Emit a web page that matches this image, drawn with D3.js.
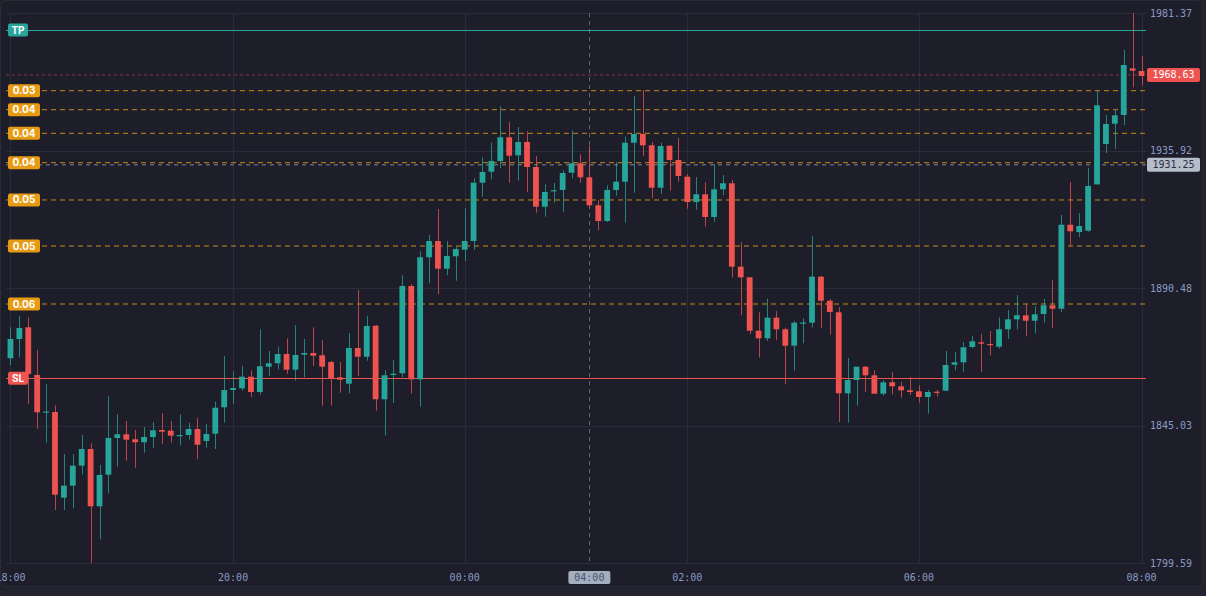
<!DOCTYPE html>
<html lang="en">
  <head>
    <meta charset="UTF-8" />
    <title>Candles</title>
    <style>
      body {
        margin: 0;
        background: #23232f;
      }
      .axis-text {
        font-family: "DejaVu Sans Mono", monospace;
        font-size: 10px;
        fill: #8a9ac2;
      }
      .tag-text {
        font-family: "Inter", "Roboto", sans-serif;
        font-size: 10px;
        font-weight: 700;
        fill: #ffffff;
      }
    </style>
    <script src="https://d3js.org/d3.v7.min.js"></script>
  </head>
  <body>
    <div id="chart"></div>
    <script>
      const opens = [
        1867.25, 1873.62, 1877.49, 1861.73, 1849.33, 1849.5, 1821.18, 1825.14, 1831.75, 1837.27,
        1818.33, 1828.78, 1840.91, 1842.13, 1840.48, 1839.49, 1841.24, 1843.55, 1843.32, 1841.67,
        1841.9, 1843.88, 1839.92, 1842.33, 1851.06, 1856.77, 1857.33, 1861.17, 1856.11, 1864.47,
        1865.6, 1868.67, 1863.48, 1868.44, 1869.0, 1868.24, 1866.02, 1860.97, 1858.85, 1870.65,
        1867.77, 1878.02, 1853.7, 1861.73, 1862.29, 1891.14, 1860.3, 1900.63, 1906.01, 1896.86,
        1900.96, 1903.14, 1906.01, 1925.28, 1928.92, 1932.46, 1940.29, 1934.34, 1938.73, 1930.47,
        1917.35, 1922.47, 1922.87, 1928.59, 1931.7, 1927.07, 1917.81, 1912.62, 1922.87, 1925.61,
        1938.5, 1941.38, 1937.64, 1923.63, 1937.51, 1932.79, 1927.27, 1918.91, 1921.45, 1913.95,
        1923.1, 1925.09, 1897.52, 1894.02, 1876.37, 1873.86, 1880.67, 1876.83, 1871.41, 1878.75,
        1879.01, 1894.22, 1886.28, 1882.45, 1855.68, 1860.07, 1864.47, 1861.63, 1855.55, 1859.31,
        1857.99, 1856.67, 1856.34, 1854.46, 1856.21, 1856.54, 1865.13, 1865.92, 1870.98, 1872.53,
        1871.97, 1871.08, 1876.83, 1880.13, 1881.46, 1879.67, 1881.89, 1884.76, 1883.64, 1911.4,
        1908.99, 1909.42, 1924.75, 1938.07, 1944.78, 1947.66, 1963.09, 1962.2,
      ];
      const highs = [
        1877.49, 1881.23, 1880.8, 1869.99, 1858.75, 1851.71, 1835.62, 1835.52, 1841.9, 1839.16,
        1831.98, 1854.69, 1848.74, 1846.53, 1843.55, 1844.54, 1846.2, 1849.17, 1846.53, 1848.74,
        1845.96, 1847.52, 1845.54, 1852.91, 1868.01, 1862.95, 1864.7, 1863.28, 1876.83, 1869.66,
        1871.08, 1873.86, 1878.25, 1873.62, 1877.49, 1873.19, 1866.35, 1866.02, 1875.61, 1889.82,
        1881.33, 1878.25, 1863.28, 1866.69, 1894.68, 1891.8, 1902.61, 1908.0, 1916.59, 1906.01,
        1904.13, 1916.82, 1926.74, 1933.68, 1938.5, 1950.53, 1945.35, 1943.69, 1942.37, 1934.11,
        1924.75, 1925.18, 1929.48, 1942.6, 1934.67, 1937.51, 1919.57, 1924.42, 1932.12, 1940.49,
        1953.94, 1955.92, 1938.73, 1938.5, 1937.51, 1940.06, 1928.16, 1927.17, 1925.42, 1931.46,
        1927.83, 1926.18, 1905.59, 1894.02, 1882.45, 1886.95, 1882.88, 1877.36, 1879.57, 1880.47,
        1907.77, 1894.45, 1886.85, 1884.1, 1867.35, 1864.47, 1864.7, 1863.28, 1860.07, 1862.62,
        1859.51, 1861.07, 1858.32, 1856.77, 1856.77, 1869.66, 1869.33, 1872.63, 1874.62, 1875.28,
        1876.27, 1880.8, 1883.21, 1888.17, 1885.03, 1884.43, 1886.85, 1893.12, 1914.61, 1925.52,
        1915.27, 1930.24, 1955.59, 1947.66, 1949.41, 1969.14, 1981.37, 1967.16,
      ];
      const lows = [
        1865.03, 1867.58, 1852.04, 1843.98, 1839.35, 1817.11, 1817.11, 1817.67, 1828.91, 1799.59,
        1807.43, 1822.63, 1831.42, 1833.4, 1831.09, 1836.05, 1837.7, 1839.02, 1839.35, 1838.49,
        1840.35, 1833.87, 1837.7, 1837.27, 1845.96, 1852.24, 1856.54, 1854.46, 1855.22, 1861.5,
        1863.61, 1862.06, 1859.84, 1860.97, 1864.7, 1851.58, 1851.58, 1855.88, 1855.68, 1861.4,
        1866.45, 1849.93, 1841.8, 1852.47, 1860.97, 1855.55, 1851.25, 1892.03, 1888.4, 1894.68,
        1892.89, 1899.4, 1903.14, 1920.66, 1926.41, 1930.04, 1925.28, 1925.94, 1922.21, 1915.37,
        1914.05, 1918.67, 1915.5, 1926.74, 1925.28, 1916.92, 1909.55, 1912.29, 1920.99, 1912.06,
        1921.98, 1934.11, 1920.13, 1921.65, 1922.64, 1925.61, 1916.69, 1916.36, 1910.74, 1912.4,
        1921.22, 1893.89, 1881.46, 1875.28, 1867.45, 1872.96, 1873.19, 1858.65, 1863.15, 1872.2,
        1877.49, 1877.36, 1875.05, 1846.19, 1845.96, 1851.58, 1856.11, 1855.55, 1854.89, 1855.35,
        1854.22, 1855.12, 1852.57, 1848.94, 1854.56, 1856.54, 1863.28, 1862.82, 1870.55, 1862.82,
        1868.24, 1870.42, 1873.62, 1876.76, 1874.52, 1875.51, 1879.01, 1877.26, 1882.55, 1904.36,
        1907.34, 1909.09, 1924.52, 1935.1, 1936.42, 1944.35, 1956.81, 1957.47,
      ];
      const closes = [
        1873.62, 1877.26, 1862.06, 1849.4, 1849.66, 1822.16, 1825.14, 1831.75, 1837.27, 1818.33,
        1828.68, 1840.91, 1842.13, 1840.35, 1839.49, 1841.24, 1843.45, 1842.99, 1841.67, 1841.9,
        1843.88, 1838.69, 1842.23, 1850.92, 1856.77, 1857.43, 1861.17, 1856.11, 1864.6, 1865.6,
        1868.67, 1863.48, 1868.34, 1869.0, 1868.1, 1864.47, 1860.74, 1860.18, 1870.65, 1867.77,
        1877.92, 1853.7, 1861.63, 1862.16, 1891.14, 1860.3, 1900.63, 1906.01, 1896.86, 1901.06,
        1903.37, 1906.01, 1925.28, 1928.82, 1932.46, 1940.29, 1934.21, 1938.73, 1930.47, 1917.35,
        1922.21, 1922.8, 1928.49, 1931.7, 1927.07, 1917.81, 1912.62, 1922.87, 1925.61, 1938.5,
        1941.38, 1937.64, 1923.63, 1937.41, 1932.79, 1927.5, 1918.91, 1921.45, 1913.95, 1923.1,
        1925.09, 1897.52, 1894.02, 1876.37, 1873.86, 1880.67, 1876.83, 1871.41, 1879.01, 1879.08,
        1894.22, 1886.28, 1882.55, 1855.68, 1860.07, 1864.47, 1861.63, 1855.55, 1859.31, 1857.99,
        1856.67, 1856.11, 1854.46, 1856.11, 1855.88, 1865.03, 1865.92, 1870.88, 1872.86, 1872.07,
        1871.74, 1876.83, 1880.13, 1881.46, 1879.67, 1881.79, 1884.76, 1883.64, 1911.4, 1909.22,
        1910.97, 1924.19, 1950.86, 1944.68, 1947.56, 1964.18, 1962.3, 1960.55,
      ];

      // time axis: candle index -> label
      const timeTickIndex = [0, 25, 51, 76, 102, 127];
      const timeTickLabels = ["18:00", "20:00", "00:00", "02:00", "06:00", "08:00"];
      const priceTicks = [1799.59, 1845.03, 1890.48, 1935.92, 1981.37];

      // order levels
      const levelLabels = ["0.03", "0.04", "0.04", "0.04", "0.05", "0.05", "0.06"];
      const levelPrices = [1955.69, 1949.41, 1941.61, 1931.89, 1919.57, 1904.36, 1885.19];
      const takeProfit = 1975.75;
      const stopLoss = 1860.64;
      const lastPriceLevel = 1960.88;
      const lastPriceText = "1968.63";
      const crossIndex = 65;
      const crossLabel = "04:00";
      const crossPrice = 1931.25;

      const W = 1206,
        H = 596;
      const plot = { left: 6, right: 1146, top: 13, bottom: 563 };

      const candles = opens.map((o, i) => ({
        i: i,
        o: o,
        h: highs[i],
        l: lows[i],
        c: closes[i],
      }));

      const svg = d3
        .select("#chart")
        .append("svg")
        .attr("width", W)
        .attr("height", H)
        .style("display", "block");

      // panel
      svg
        .append("rect")
        .attr("x", 0.5)
        .attr("y", 0.5)
        .attr("width", 1202)
        .attr("height", 586)
        .attr("rx", 6)
        .attr("fill", "#1e1e2b")
        .attr("stroke", "#2a2a38");

      const x = d3
        .scaleBand()
        .domain(d3.range(candles.length))
        .range([plot.left, plot.right])
        .paddingInner(0.35)
        .paddingOuter(0.175);
      const cx = (i) => x(i) + x.bandwidth() / 2;

      const y = d3
        .scaleLinear()
        .domain([d3.min(lows), d3.max(highs)])
        .range([plot.bottom, plot.top]);

      const grid = svg.append("g").attr("stroke", "#2b2c3b").attr("stroke-width", 1);
      grid
        .selectAll(".hg")
        .data(priceTicks)
        .enter()
        .append("line")
        .attr("x1", plot.left)
        .attr("x2", plot.right)
        .attr("y1", (d) => Math.round(y(d)) + 0.5)
        .attr("y2", (d) => Math.round(y(d)) + 0.5);
      grid
        .selectAll(".vg")
        .data(timeTickIndex)
        .enter()
        .append("line")
        .attr("x1", (d) => Math.round(cx(d)) + 0.5)
        .attr("x2", (d) => Math.round(cx(d)) + 0.5)
        .attr("y1", plot.top)
        .attr("y2", plot.bottom);

      const lines = svg.append("g");

      // order levels
      lines
        .selectAll(".lvl")
        .data(levelPrices)
        .enter()
        .append("line")
        .attr("x1", plot.left)
        .attr("x2", plot.right)
        .attr("y1", (d) => y(d))
        .attr("y2", (d) => y(d))
        .attr("stroke", "#e69b12")
        .attr("stroke-width", 1)
        .attr("stroke-dasharray", "5,4")
        .attr("opacity", 0.85);

      // crosshair
      lines
        .append("line")
        .attr("x1", plot.left)
        .attr("x2", plot.right)
        .attr("y1", y(crossPrice))
        .attr("y2", y(crossPrice))
        .attr("stroke", "#5f6273")
        .attr("stroke-width", 1.5)
        .attr("stroke-dasharray", "4,4");
      lines
        .append("line")
        .attr("x1", Math.round(cx(crossIndex)) + 0.5)
        .attr("x2", Math.round(cx(crossIndex)) + 0.5)
        .attr("y1", plot.top)
        .attr("y2", plot.bottom)
        .attr("stroke", "#5f6273")
        .attr("stroke-dasharray", "4,4");

      // last price
      lines
        .append("line")
        .attr("x1", plot.left)
        .attr("x2", plot.right)
        .attr("y1", y(lastPriceLevel))
        .attr("y2", y(lastPriceLevel))
        .attr("stroke", "#ef5350")
        .attr("opacity", 0.5)
        .attr("stroke-dasharray", "3,3");

      // TP / SL
      lines
        .append("line")
        .attr("x1", plot.left)
        .attr("x2", plot.right)
        .attr("y1", Math.round(y(takeProfit)) + 0.5)
        .attr("y2", Math.round(y(takeProfit)) + 0.5)
        .attr("stroke", "#26a69a");
      lines
        .append("line")
        .attr("x1", plot.left)
        .attr("x2", plot.right)
        .attr("y1", Math.round(y(stopLoss)) + 0.5)
        .attr("y2", Math.round(y(stopLoss)) + 0.5)
        .attr("stroke", "#ef5350");

      // candles
      const up = "#26a69a",
        down = "#ef5350";
      const cg = svg
        .append("g")
        .selectAll(".candle")
        .data(candles)
        .enter()
        .append("g")
        .attr("class", "candle");

      cg.append("line")
        .attr("x1", (d) => Math.round(cx(d.i)) + 0.5)
        .attr("x2", (d) => Math.round(cx(d.i)) + 0.5)
        .attr("y1", (d) => y(d.h))
        .attr("y2", (d) => y(d.l))
        .attr("stroke", (d) => (d.c >= d.o ? up : down))
        .attr("stroke-opacity", 0.75)
        .attr("stroke-width", 1);

      cg.append("rect")
        .attr("x", (d) => x(d.i))
        .attr("width", x.bandwidth())
        .attr("y", (d) => y(Math.max(d.o, d.c)))
        .attr("height", (d) => Math.max(1.2, Math.abs(y(d.o) - y(d.c))))
        .attr("fill", (d) => (d.c >= d.o ? up : down));

      // left tags
      const tags = svg.append("g");
      function tag(price, text, color, w) {
        const yy = y(price);
        tags
          .append("rect")
          .attr("x", 8)
          .attr("y", yy - 6.5)
          .attr("width", w)
          .attr("height", 13)
          .attr("rx", 2)
          .attr("fill", color);
        tags
          .append("text")
          .attr("class", "tag-text")
          .attr("x", 8 + w / 2)
          .attr("y", yy)
          .attr("dy", "0.35em")
          .attr("text-anchor", "middle")
          .text(text);
      }
      tag(takeProfit, "TP", "#26a69a", 20);
      levelPrices.forEach((p, i) => tag(p, levelLabels[i], "#e69b12", 32));
      tag(stopLoss, "SL", "#ef5350", 20);

      // price axis
      const axisY = svg.append("g");
      axisY
        .selectAll("text")
        .data(priceTicks)
        .enter()
        .append("text")
        .attr("class", "axis-text")
        .attr("x", 1150)
        .attr("y", (d) => y(d))
        .attr("dy", "0.35em")
        .text((d) => d.toFixed(2));

      function priceBox(price, text, fill, color) {
        const yy = y(price);
        axisY
          .append("rect")
          .attr("x", 1147)
          .attr("y", yy - 7)
          .attr("width", 53)
          .attr("height", 14)
          .attr("rx", 2)
          .attr("fill", fill);
        axisY
          .append("text")
          .attr("class", "axis-text")
          .attr("x", 1173.5)
          .attr("y", yy)
          .attr("dy", "0.35em")
          .attr("text-anchor", "middle")
          .style("fill", color)
          .text(text);
      }
      priceBox(lastPriceLevel, lastPriceText, "#ef5350", "#ffffff");
      priceBox(crossPrice, crossPrice.toFixed(2), "#b5bdca", "#2b2e3c");

      // time axis
      const axisX = svg.append("g");
      axisX
        .selectAll("text")
        .data(timeTickIndex)
        .enter()
        .append("text")
        .attr("class", "axis-text")
        .attr("x", (d) => cx(d))
        .attr("y", 577)
        .attr("dy", "0.35em")
        .attr("text-anchor", "middle")
        .text((d, i) => timeTickLabels[i]);

      axisX
        .append("rect")
        .attr("x", cx(crossIndex) - 21)
        .attr("y", 571)
        .attr("width", 42)
        .attr("height", 13)
        .attr("rx", 2)
        .attr("fill", "#a3aebf");
      axisX
        .append("text")
        .attr("class", "axis-text")
        .attr("x", cx(crossIndex))
        .attr("y", 577.5)
        .attr("dy", "0.35em")
        .attr("text-anchor", "middle")
        .style("fill", "#4b5270")
        .text(crossLabel);
    </script>
  </body>
</html>
